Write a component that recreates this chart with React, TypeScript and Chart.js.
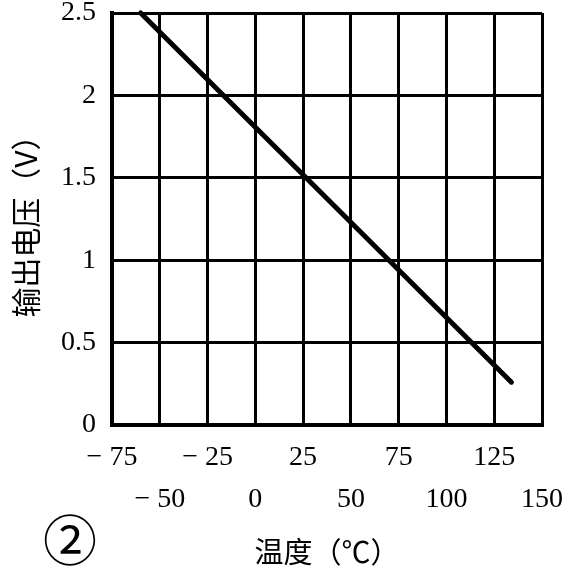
import { useEffect, useRef } from 'react';
import { Chart, registerables } from 'chart.js';

Chart.register(...registerables);

// Data
const temperatures = [-60, 134];
const outputVoltages = [2.5, 0.26];
const xTickValues = [-75, -50, -25, 0, 25, 50, 75, 100, 125, 150];
const yTickValues = [0, 0.5, 1, 1.5, 2, 2.5];
const xTitle = '温度（℃）';
const yTitle = '输出电压（V）';
const figureMark = '②';

const numFont = '"Liberation Serif", "Times New Roman", serif';
const cjkFont = '"Noto Sans CJK SC", sans-serif';

function formatTick(v: number): string {
  return v < 0 ? '− ' + Math.abs(v) : String(v);
}

export default function App() {
  const canvasRef = useRef<HTMLCanvasElement | null>(null);

  useEffect(() => {
    const canvas = canvasRef.current;
    if (!canvas) return;

    const markPlugin = {
      id: 'figureMark',
      afterDraw(chart: any) {
        const ctx = chart.ctx;
        ctx.save();
        ctx.fillStyle = '#000';
        ctx.font = '54px ' + cjkFont;
        ctx.textAlign = 'center';
        ctx.textBaseline = 'middle';
        ctx.fillText(figureMark, 70, 540);
        ctx.restore();
      },
    };

    const chart = new Chart(canvas, {
      type: 'scatter',
      data: {
        datasets: [
          {
            data: temperatures.map((t, i) => ({ x: t, y: outputVoltages[i] })),
            showLine: true,
            borderColor: '#000',
            backgroundColor: '#000',
            borderWidth: 5,
            borderCapStyle: 'round',
            pointRadius: 0,
            clip: false,
          } as any,
        ],
      },
      options: {
        responsive: false,
        animation: false,
        layout: { padding: { top: 13, right: 25, bottom: 0, left: 0 } },
        plugins: {
          legend: { display: false },
          tooltip: { enabled: false },
        },
        scales: {
          x: {
            type: 'linear',
            min: xTickValues[0],
            max: xTickValues[xTickValues.length - 1],
            afterBuildTicks(scale: any) {
              scale.ticks = xTickValues.map((v) => ({ value: v }));
            },
            afterFit(scale: any) {
              scale.height = 146;
              scale.paddingLeft = 0;
              scale.paddingRight = 0;
            },
            grid: { color: '#000', lineWidth: 3, drawTicks: false },
            border: { color: '#000', width: 4 },
            ticks: {
              autoSkip: false,
              maxRotation: 0,
              minRotation: 0,
              padding: 12,
              color: '#000',
              font: { family: numFont, size: 28, lineHeight: 42 / 28 },
              callback: (value: any, index: number) =>
                index % 2 === 0 ? [formatTick(Number(value)), ''] : ['', formatTick(Number(value))],
            },
            title: {
              display: true,
              text: xTitle,
              color: '#000',
              font: { family: cjkFont, size: 29 },
              padding: { top: 10, bottom: 2 },
            },
          },
          y: {
            type: 'linear',
            min: yTickValues[0],
            max: yTickValues[yTickValues.length - 1],
            afterBuildTicks(scale: any) {
              scale.ticks = yTickValues.map((v) => ({ value: v }));
            },
            afterFit(scale: any) {
              scale.width = 112;
              scale.paddingTop = 0;
              scale.paddingBottom = 0;
            },
            grid: { color: '#000', lineWidth: 3, drawTicks: false },
            border: { color: '#000', width: 4 },
            ticks: {
              padding: 16,
              color: '#000',
              font: { family: numFont, size: 28, lineHeight: 1 },
              callback: (value: any) => String(value),
            },
            title: {
              display: true,
              text: yTitle,
              color: '#000',
              font: { family: cjkFont, size: 30 },
              padding: { top: 8, bottom: 0 },
            },
          },
        },
      },
      plugins: [markPlugin],
    });

    return () => chart.destroy();
  }, []);

  return (
    <div style={{ position: 'fixed', left: 0, top: 0, width: 567, height: 571, background: '#fff' }}>
      <canvas ref={canvasRef} width={567} height={571} />
    </div>
  );
}
